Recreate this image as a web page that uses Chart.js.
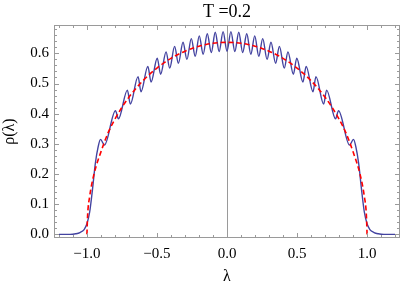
<!DOCTYPE html>
<html>
<head>
<style>
  body { margin: 0; background: #fff; }
  canvas { display: block; }
</style>
<script src="https://cdn.jsdelivr.net/npm/chart.js"></script>
</head>
<body>
<canvas id="rhoChart" width="402" height="289"></canvas>
<script>
// blue: finite-T density, peaks/troughs
const lambdaBlue = [-1.20, -1.12, -1.08, -1.05, -1.02, -1.00, -0.98, -0.96, -0.94, -0.92,
  -0.903, -0.875, -0.796, -0.775, -0.711, -0.690, -0.635, -0.614, -0.565, -0.542,
  -0.498, -0.474, -0.435, -0.409, -0.374, -0.347, -0.314, -0.286, -0.255, -0.227,
  -0.198, -0.170, -0.141, -0.112, -0.084, -0.056, -0.028, 0.000,
  0.028, 0.056, 0.084, 0.112, 0.141, 0.170, 0.198, 0.227, 0.255, 0.286,
  0.314, 0.347, 0.374, 0.409, 0.435, 0.474, 0.498, 0.542, 0.565, 0.614,
  0.635, 0.690, 0.711, 0.775, 0.796, 0.875, 0.903, 0.92, 0.94, 0.96,
  0.98, 1.00, 1.02, 1.05, 1.08, 1.12, 1.20];
const rhoBlue = [0.000, 0.000, 0.002, 0.006, 0.016, 0.035, 0.075, 0.150, 0.235, 0.290,
  0.315, 0.296, 0.410, 0.383, 0.478, 0.432, 0.523, 0.473, 0.557, 0.505,
  0.584, 0.531, 0.605, 0.551, 0.623, 0.567, 0.637, 0.580, 0.649, 0.590,
  0.658, 0.597, 0.665, 0.603, 0.670, 0.606, 0.672, 0.607,
  0.672, 0.606, 0.670, 0.603, 0.665, 0.597, 0.658, 0.590, 0.649, 0.580,
  0.637, 0.567, 0.623, 0.551, 0.605, 0.531, 0.584, 0.505, 0.557, 0.473,
  0.523, 0.432, 0.478, 0.383, 0.410, 0.296, 0.315, 0.290, 0.235, 0.150,
  0.075, 0.035, 0.016, 0.006, 0.002, 0.000, 0.000];

// red dashed: semicircle
const lambdaRed = [-1.0, -0.995, -0.98, -0.95, -0.9, -0.85, -0.8, -0.75, -0.7, -0.65,
  -0.6, -0.55, -0.5, -0.45, -0.4, -0.35, -0.3, -0.25, -0.2, -0.15, -0.1, -0.05, 0.0,
  0.05, 0.1, 0.15, 0.2, 0.25, 0.3, 0.35, 0.4, 0.45, 0.5, 0.55, 0.6, 0.65, 0.7,
  0.75, 0.8, 0.85, 0.9, 0.95, 0.98, 0.995, 1.0];
const rhoRed = [0.0, 0.0636, 0.1267, 0.1988, 0.2735, 0.3354, 0.3820, 0.4211, 0.4546, 0.4838,
  0.5093, 0.5317, 0.5513, 0.5685, 0.5835, 0.5963, 0.6073, 0.6164, 0.6237, 0.6294, 0.6334, 0.6358, 0.6366,
  0.6358, 0.6334, 0.6294, 0.6237, 0.6164, 0.6073, 0.5963, 0.5835, 0.5685, 0.5513, 0.5317, 0.5093, 0.4838, 0.4546,
  0.4211, 0.3820, 0.3354, 0.2735, 0.1988, 0.1267, 0.0636, 0.0];

const xMajor = [-1.0, -0.5, 0.0, 0.5, 1.0];
const xMinor = [-1.2, -1.1, -0.9, -0.8, -0.7, -0.6, -0.4, -0.3, -0.2, -0.1,
  0.1, 0.2, 0.3, 0.4, 0.6, 0.7, 0.8, 0.9, 1.1, 1.2];
const yMajor = [0.0, 0.1, 0.2, 0.3, 0.4, 0.5, 0.6];
const yMinor = [0.02, 0.04, 0.06, 0.08, 0.12, 0.14, 0.16, 0.18, 0.22, 0.24, 0.26, 0.28,
  0.32, 0.34, 0.36, 0.38, 0.42, 0.44, 0.46, 0.48, 0.52, 0.54, 0.56, 0.58, 0.62, 0.64, 0.66, 0.68];

const titleText = 'T =0.2';
const serif = 'Liberation Serif';

function toPoints(xs, ys) {
  return xs.map((v, i) => ({ x: v, y: ys[i] }));
}

// frame, inward ticks, zero line and title
const frameTicks = {
  id: 'frameTicks',
  beforeDatasetsDraw(chart) {
    const { ctx, chartArea: a, scales: { x } } = chart;
    const x0 = Math.round(x.getPixelForValue(0)) + 0.5;
    ctx.save();
    ctx.strokeStyle = '#9a9a9a';
    ctx.lineWidth = 1;
    ctx.beginPath();
    ctx.moveTo(x0, a.top);
    ctx.lineTo(x0, a.bottom);
    ctx.stroke();
    ctx.restore();
  },
  afterDraw(chart) {
    const { ctx, chartArea: a, scales: { x, y } } = chart;
    ctx.save();
    ctx.strokeStyle = '#9a9a9a';
    ctx.lineWidth = 1;
    ctx.strokeRect(a.left + 0.5, a.top + 0.5, a.right - a.left - 1, a.bottom - a.top - 1);
    ctx.beginPath();
    const xt = (v, len) => {
      const p = Math.round(x.getPixelForValue(v)) + 0.5;
      ctx.moveTo(p, a.bottom); ctx.lineTo(p, a.bottom - len);
      ctx.moveTo(p, a.top); ctx.lineTo(p, a.top + len);
    };
    const yt = (v, len) => {
      const p = Math.round(y.getPixelForValue(v)) + 0.5;
      ctx.moveTo(a.left, p); ctx.lineTo(a.left + len, p);
      ctx.moveTo(a.right, p); ctx.lineTo(a.right - len, p);
    };
    xMajor.forEach(v => xt(v, 5));
    xMinor.forEach(v => xt(v, 3));
    yMajor.forEach(v => yt(v, 5));
    yMinor.forEach(v => yt(v, 3));
    ctx.stroke();

    ctx.fillStyle = '#000';
    ctx.font = '18px "' + serif + '"';
    ctx.textAlign = 'center';
    ctx.textBaseline = 'middle';
    ctx.fillText(titleText, (a.left + a.right) / 2, 12);
    ctx.restore();
  }
};

const chart = new Chart(document.getElementById('rhoChart'), {
  type: 'line',
  data: {
    datasets: [{
      data: toPoints(lambdaRed, rhoRed),
      borderColor: '#ff0000',
      borderWidth: 1.6,
      borderDash: [5, 3],
      pointRadius: 0,
      cubicInterpolationMode: 'monotone',
      fill: false
    }, {
      data: toPoints(lambdaBlue, rhoBlue),
      borderColor: '#4343a0',
      borderWidth: 1.4,
      pointRadius: 0,
      cubicInterpolationMode: 'monotone',
      fill: false
    }]
  },
  options: {
    responsive: false,
    animation: false,
    layout: { padding: { top: 25, right: 2, left: 0, bottom: 0 } },
    plugins: {
      legend: { display: false },
      tooltip: { enabled: false },
      title: { display: false }
    },
    scales: {
      x: {
        type: 'linear',
        min: -1.235,
        max: 1.235,
        grid: { display: false, drawTicks: false },
        border: { display: false },
        afterBuildTicks: s => { s.ticks = xMajor.map(v => ({ value: v })); },
        afterFit: s => { s.height = 51; },
        ticks: {
          autoSkip: false,
          maxRotation: 0,
          padding: 7,
          color: '#000',
          font: { family: serif, size: 15 },
          callback: v => (v < 0 ? '\u2212' : '') + Math.abs(v).toFixed(1)
        },
        title: {
          display: true,
          text: 'λ',
          color: '#000',
          font: { family: serif, size: 16 },
          padding: { top: 0, bottom: 3 }
        }
      },
      y: {
        min: -0.012,
        max: 0.694,
        grid: { display: false, drawTicks: false },
        border: { display: false },
        afterBuildTicks: s => { s.ticks = yMajor.map(v => ({ value: v })); },
        afterFit: s => { s.width = 54; },
        ticks: {
          padding: 5,
          color: '#000',
          font: { family: serif, size: 15 },
          callback: v => v.toFixed(1)
        },
        title: {
          display: true,
          text: 'ρ(λ)',
          color: '#000',
          font: { family: serif, size: 16 },
          padding: { top: 0, bottom: 0 }
        }
      }
    }
  },
  plugins: [frameTicks]
});
</script>
</body>
</html>
